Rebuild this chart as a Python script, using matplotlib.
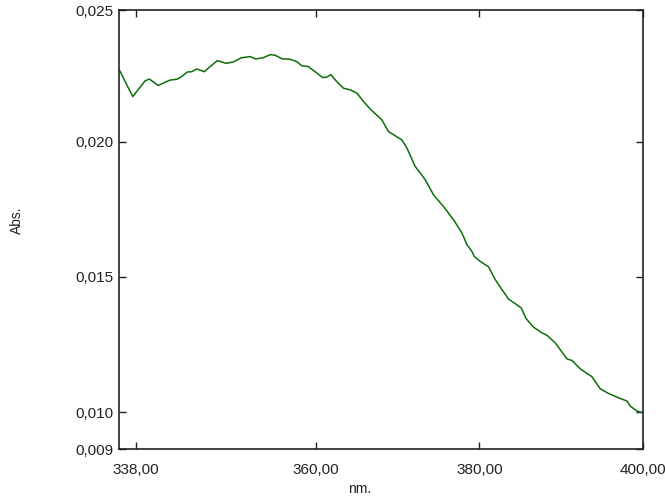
import matplotlib
matplotlib.use("Agg")
import matplotlib.pyplot as plt

plt.rcParams['font.family'] = ['Liberation Sans', 'DejaVu Sans']

wavelength = [335.96, 337.60, 339.10, 339.63, 340.73, 341.34, 342.16, 342.98, 343.59, 344.28,
              344.82, 345.43, 346.36, 347.06, 347.95, 349.01, 349.91, 350.85, 351.95, 352.65,
              353.58, 354.40, 355.01, 355.83, 356.85, 357.67, 358.28, 359.08, 359.90, 360.85,
              361.34, 361.83, 362.56, 363.37, 364.19, 365.01, 365.82, 366.64, 368.07, 368.87,
              370.51, 371.13, 372.14, 373.37, 374.38, 375.60, 376.83, 377.86, 378.47, 379.08,
              379.36, 380.10, 381.11, 381.93, 382.75, 383.56, 384.38, 385.11, 385.72, 386.62,
              387.65, 388.26, 389.27, 390.70, 391.32, 392.33, 393.76, 394.78, 395.80, 397.02,
              398.05, 398.46, 399.27, 400.00]
absorbance = [0.02265, 0.02166, 0.02224, 0.02231, 0.02207, 0.02216, 0.02227, 0.02230, 0.02240, 0.02257,
              0.02258, 0.02268, 0.02258, 0.02277, 0.02299, 0.02289, 0.02294, 0.02309, 0.02314, 0.02305,
              0.02310, 0.02321, 0.02319, 0.02306, 0.02304, 0.02295, 0.02280, 0.02277, 0.02258, 0.02236,
              0.02238, 0.02247, 0.02221, 0.02197, 0.02191, 0.02179, 0.02148, 0.02120, 0.02080, 0.02037,
              0.02006, 0.01976, 0.01908, 0.01859, 0.01803, 0.01760, 0.01711, 0.01662, 0.01619, 0.01594,
              0.01576, 0.01557, 0.01537, 0.01490, 0.01453, 0.01418, 0.01401, 0.01385, 0.01345, 0.01314,
              0.01293, 0.01284, 0.01256, 0.01197, 0.01191, 0.01160, 0.01131, 0.01086, 0.01069, 0.01053,
              0.01041, 0.01022, 0.01004, 0.00998]

x_ticks = [338, 360, 380, 400]
x_tick_labels = ['338,00', '360,00', '380,00', '400,00']
y_ticks = [0.00864, 0.010, 0.015, 0.020, 0.02486]
y_tick_labels = ['0,009', '0,010', '0,015', '0,020', '0,025']

fig = plt.figure(figsize=(6.65, 5.01), dpi=100)
ax = fig.add_axes([119/665, 52/501, 524/665, 439/501])
ax.plot(wavelength, absorbance, color='#0b6e0b', lw=1.1)

ax.set_xlim(335.92, 400.0)
ax.set_ylim(0.00864, 0.02486)
ax.set_xticks(x_ticks)
ax.set_xticklabels(x_tick_labels)
ax.set_yticks(y_ticks)
ax.set_yticklabels(y_tick_labels)

ax.tick_params(direction='in', length=5, width=1, colors='#222222', labelcolor='#222222',
               labelsize=11, top=True, right=True)
ax.tick_params(axis='x', pad=10)
ax.tick_params(axis='y', pad=4)
for s in ax.spines.values():
    s.set_linewidth(1.2)
    s.set_color('#222222')

ax.set_xlabel('nm.', fontsize=10, color='#222222')
ax.xaxis.set_label_coords(0.46, -0.075)
ax.set_ylabel('Abs.', fontsize=10, color='#222222')
ax.yaxis.set_label_coords(-0.182, 0.52)

fig.savefig('out.png', dpi=100)
